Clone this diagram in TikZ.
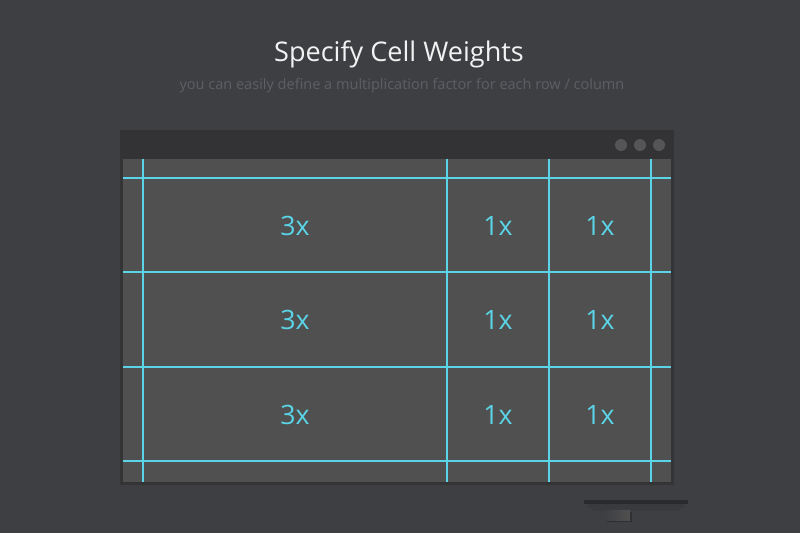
\documentclass[tikz,border=0pt]{standalone}
\usepackage{fontspec}
\setmainfont{Open Sans}
\definecolor{bg}{HTML}{3E3F43}
\definecolor{barc}{HTML}{333336}
\definecolor{framec}{HTML}{343437}
\definecolor{cellc}{HTML}{505050}
\definecolor{dotc}{HTML}{555558}
\definecolor{gridc}{HTML}{5AD4E6}
\definecolor{subc}{HTML}{5E5F64}
\definecolor{titlec}{HTML}{F2F2F2}
\definecolor{standc}{HTML}{2B2B2E}
\tikzset{
  gridline/.style={draw=gridc, line width=1.4pt},
  weight/.style={text=gridc, font=\fontsize{20}{24}\selectfont, inner sep=0pt, anchor=center},
  winbtn/.style={fill=dotc, draw=none}
}
\begin{document}
\begin{tikzpicture}[x=0.75pt,y=-0.75pt]
\useasboundingbox (0,0) rectangle (800,533);
\fill[bg] (0,0) rectangle (800,533);
% title
\node[text=titlec, font=\fontsize{20.3}{24}\selectfont, inner sep=0pt] (title) at (399,54) {Specify Cell Weights};
\node[text=subc, font=\fontsize{10.9}{13}\selectfont, inner sep=0pt] (subtitle) at (402,86) {you can easily define a multiplication factor for each row / column};
% window
\fill[framec] (120,130) rectangle (673.5,484.5);
\fill[barc] (120,130) rectangle (673.5,159);
\fill[cellc] (123,159) rectangle (670.5,481.5);
\fill[winbtn] (621,145) circle (6);
\fill[winbtn] (640,145) circle (6);
\fill[winbtn] (659,145) circle (6);
% grid
\draw[gridline] (123,178) -- (670.5,178);
\draw[gridline] (123,272) -- (670.5,272);
\draw[gridline] (123,367) -- (670.5,367);
\draw[gridline] (123,461) -- (670.5,461);
\draw[gridline] (143,159) -- (143,481.5);
\draw[gridline] (447,159) -- (447,481.5);
\draw[gridline] (549,159) -- (549,481.5);
\draw[gridline] (651,159) -- (651,481.5);
% weights
\node[weight] (r1c1) at (295,226) {3x};
\node[weight] (r1c2) at (498,226) {1x};
\node[weight] (r1c3) at (600,226) {1x};
\node[weight] (r2c1) at (295,320) {3x};
\node[weight] (r2c2) at (498,320) {1x};
\node[weight] (r2c3) at (600,320) {1x};
\node[weight] (r3c1) at (295,414.5) {3x};
\node[weight] (r3c2) at (498,414.5) {1x};
\node[weight] (r3c3) at (600,414.5) {1x};
% stand
\fill[black, opacity=0.08] (588,503) rectangle (684,508);
\fill[black, opacity=0.06] (592,508) rectangle (680,511);
\fill[standc] (584,500) rectangle (688,503.5);
\fill[black, opacity=0.25] (607,512) rectangle (632,522);
\shade[left color=bg, right color=cellc] (605,510) rectangle (630,520);
\end{tikzpicture}
\end{document}
